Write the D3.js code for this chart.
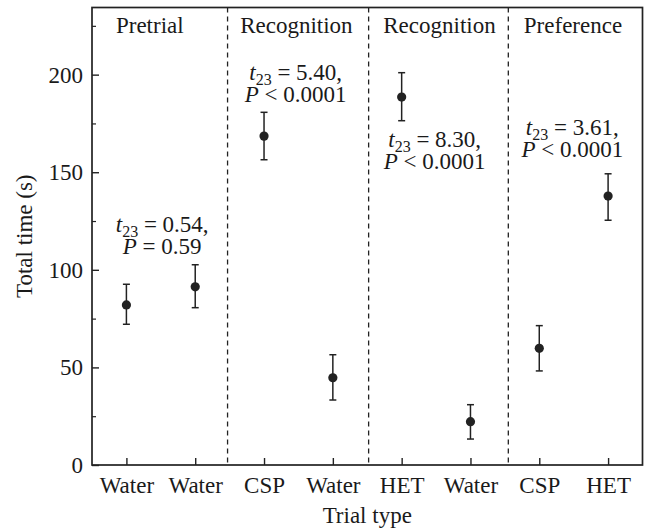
<!DOCTYPE html>
<html>
<head>
<meta charset="utf-8">
<script src="https://cdn.jsdelivr.net/npm/d3@7"></script>
<style>
  body { margin: 0; background: #fff; }
  text { font-family: "Liberation Serif", "Times New Roman", serif; fill: #1a1a1a; }
</style>
</head>
<body>
<div id="chart"></div>
<script>
// data
var categories = ["Water", "Water", "CSP", "Water", "HET", "Water", "CSP", "HET"];
var means = [82, 91.3, 168.5, 44.7, 188.5, 22.2, 59.8, 137.8];
var upper = [92.6, 102.6, 180.7, 56.5, 201, 30.9, 71.4, 149.2];
var lower = [72.1, 80.6, 156.4, 33.3, 176.4, 13.3, 48.2, 125.4];

var yTicks = [0, 50, 100, 150, 200];
var yMinor = [25, 75, 125, 175, 225];

// panels (positions in category units)
var panels = ["Pretrial", "Recognition", "Recognition", "Preference"];
var panelPos = [0.34, 2.47, 4.55, 6.49];
var dividers = [1.47, 3.52, 5.55];

// t-test annotations
var statT = ["0.54,", "5.40,", "8.30,", "3.61,"];
var statP = ["= 0.59", "< 0.0001", "< 0.0001", "< 0.0001"];
var statX = [0.52, 2.46, 4.48, 6.48];
var statY = [119.5, 197.2, 163, 169];

var W = 649, H = 531;
var margin = {top: 7.5, right: 6.5, bottom: 66, left: 92};
var width = W - margin.left - margin.right,
    height = H - margin.top - margin.bottom;

var svg = d3.select("#chart")
    .append("svg")
    .attr("width", W)
    .attr("height", H)
    .append("g")
    .attr("transform", "translate(" + margin.left + "," + margin.top + ")");

var x = d3.scaleLinear()
    .domain([-0.5, categories.length - 0.5])
    .range([0, width]);

var y = d3.scaleLinear()
    .domain([0, 234.4])
    .range([height, 0]);

var ink = "#222";
var fs = 23;

// dashed panel dividers
svg.selectAll("line.divider")
    .data(dividers)
    .enter()
    .append("line")
    .attr("class", "divider")
    .attr("x1", function(d) { return x(d); })
    .attr("x2", function(d) { return x(d); })
    .attr("y1", 0)
    .attr("y2", height)
    .attr("stroke", ink)
    .attr("stroke-width", 1.3)
    .attr("stroke-dasharray", "5,4");

// y axis, ticks pointing inward
var yAxis = svg.append("g")
    .call(d3.axisLeft(y).tickValues(yTicks).tickSizeInner(-7).tickSizeOuter(0).tickPadding(9));
yAxis.select(".domain").remove();
yAxis.selectAll("line").attr("stroke", ink).attr("stroke-width", 1.4);
yAxis.selectAll("text")
    .style("font-size", fs + "px")
    .style("font-family", "Liberation Serif, serif")
    .attr("fill", "#1a1a1a");

var yMinorAxis = svg.append("g")
    .call(d3.axisLeft(y).tickValues(yMinor).tickSizeInner(-4).tickSizeOuter(0).tickFormat(""));
yMinorAxis.select(".domain").remove();
yMinorAxis.selectAll("line").attr("stroke", ink).attr("stroke-width", 1.2);

// x axis
var xAxis = svg.append("g")
    .attr("transform", "translate(0," + height + ")")
    .call(d3.axisBottom(x)
        .tickValues(d3.range(categories.length))
        .tickFormat(function(i) { return categories[i]; })
        .tickSizeInner(-7).tickSizeOuter(0));
xAxis.select(".domain").remove();
xAxis.selectAll("line").attr("stroke", ink).attr("stroke-width", 1.4);
xAxis.selectAll("text")
    .attr("y", 28)
    .attr("dy", null)
    .style("font-size", fs + "px")
    .style("font-family", "Liberation Serif, serif")
    .attr("fill", "#1a1a1a");

// frame
svg.append("rect")
    .attr("x", 0)
    .attr("y", 0)
    .attr("width", width)
    .attr("height", height)
    .attr("fill", "none")
    .attr("stroke", ink)
    .attr("stroke-width", 1.7);

// axis titles
svg.append("text")
    .attr("x", width / 2)
    .attr("y", height + 58)
    .attr("text-anchor", "middle")
    .style("font-size", fs + "px")
    .text("Trial type");

svg.append("text")
    .attr("transform", "rotate(-90)")
    .attr("x", -height / 2)
    .attr("y", -60)
    .attr("text-anchor", "middle")
    .style("font-size", fs + "px")
    .text("Total time (s)");

// panel labels
svg.selectAll("text.panel")
    .data(panels)
    .enter()
    .append("text")
    .attr("class", "panel")
    .attr("x", function(d, i) { return x(panelPos[i]); })
    .attr("y", 25)
    .attr("text-anchor", "middle")
    .style("font-size", fs + "px")
    .text(function(d) { return d; });

// error bars
var bars = svg.append("g")
    .selectAll("g")
    .data(means)
    .enter()
    .append("g");

bars.append("line")
    .attr("x1", function(d, i) { return x(i); })
    .attr("x2", function(d, i) { return x(i); })
    .attr("y1", function(d, i) { return y(upper[i]); })
    .attr("y2", function(d, i) { return y(lower[i]); })
    .attr("stroke", ink)
    .attr("stroke-width", 1.5);

bars.selectAll("line.cap")
    .data(function(d, i) { return [{i: i, v: upper[i]}, {i: i, v: lower[i]}]; })
    .enter()
    .append("line")
    .attr("class", "cap")
    .attr("x1", function(d) { return x(d.i) - 3.5; })
    .attr("x2", function(d) { return x(d.i) + 3.5; })
    .attr("y1", function(d) { return y(d.v); })
    .attr("y2", function(d) { return y(d.v); })
    .attr("stroke", ink)
    .attr("stroke-width", 1.5);

bars.append("circle")
    .attr("cx", function(d, i) { return x(i); })
    .attr("cy", function(d) { return y(d); })
    .attr("r", 4.6)
    .attr("fill", ink);

// t-test annotations
var stats = svg.selectAll("g.stat")
    .data(statT)
    .enter()
    .append("g")
    .attr("class", "stat");

var tLine = stats.append("text")
    .attr("x", function(d, i) { return x(statX[i]); })
    .attr("y", function(d, i) { return y(statY[i]); })
    .attr("text-anchor", "middle")
    .style("font-size", fs + "px");
tLine.append("tspan").style("font-style", "italic").text("t");
tLine.append("tspan").attr("dy", 5).style("font-size", "16px").text("23");
tLine.append("tspan").attr("dy", -5).text(function(d) { return " = " + d; });

var pLine = stats.append("text")
    .attr("x", function(d, i) { return x(statX[i]); })
    .attr("y", function(d, i) { return y(statY[i]) + 22; })
    .attr("text-anchor", "middle")
    .style("font-size", fs + "px");
pLine.append("tspan").style("font-style", "italic").text("P");
pLine.append("tspan").text(function(d, i) { return " " + statP[i]; });
</script>
</body>
</html>
